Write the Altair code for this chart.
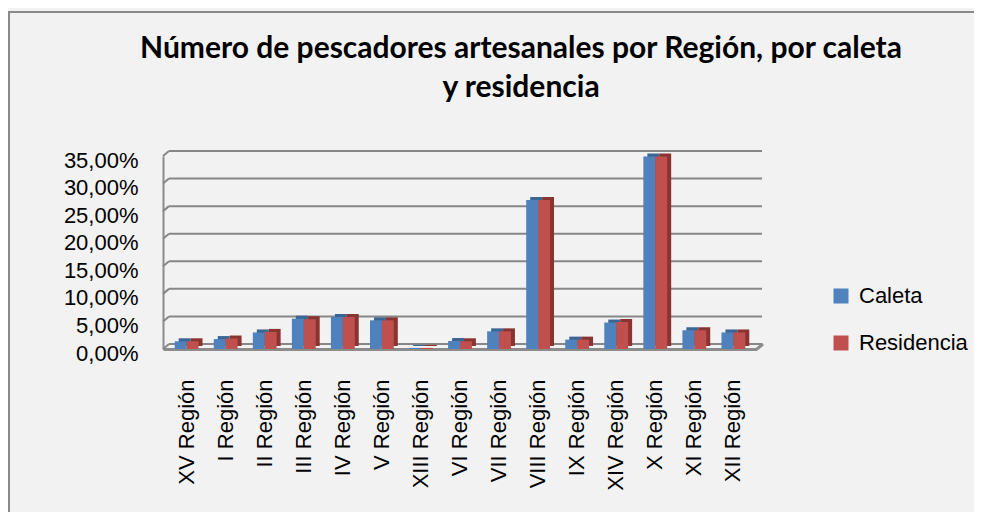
import altair as alt
import pandas as pd

regions = ["XV Región", "I Región", "II Región", "III Región", "IV Región", "V Región",
           "XIII Región", "VI Región", "VII Región", "VIII Región", "IX Región",
           "XIV Región", "X Región", "XI Región", "XII Región"]
caleta = [0.014, 0.018, 0.030, 0.055, 0.058, 0.052, 0.002, 0.0145, 0.032, 0.270,
          0.017, 0.048, 0.349, 0.034, 0.030]
residencia = [0.014, 0.019, 0.031, 0.054, 0.058, 0.052, 0.002, 0.014, 0.032, 0.270,
              0.017, 0.049, 0.349, 0.034, 0.030]
series_names = ["Caleta", "Residencia"]
front_colors = ["#4f81bd", "#c0504d"]
shade_colors = ["#3a6594", "#8a3431"]
y_ticks = [0.0, 0.05, 0.10, 0.15, 0.20, 0.25, 0.30, 0.35]
title_lines = ["Número de pescadores artesanales por Región, por caleta", "y residencia"]

rows = []
for r, c, s in zip(regions, caleta, residencia):
    rows.append({"Region": r, "Serie": "Caleta", "Valor": c})
    rows.append({"Region": r, "Serie": "Residencia", "Valor": s})
df = pd.DataFrame(rows)

W, H = 594, 193
PL, PT = 155, 148
PR, PB = 966 - PL - W, 504 - PT - H

FONT = "Liberation Sans"
FS = 22
x_scale = alt.Scale(domain=regions, paddingInner=0.39, paddingOuter=0.3)
x_scale_shade = alt.Scale(domain=regions, paddingInner=0.39, paddingOuter=0.3, range=[4, W + 4])
xo_scale = alt.Scale(domain=series_names, paddingInner=0, paddingOuter=0)
y_scale = alt.Scale(domain=[0, 0.35], nice=False, zero=True)
label_expr = "replace(format(datum.value, '.2%'), '.', ',')"

x_axis = alt.Axis(title=None, labelAngle=-90, labelFont=FONT, labelFontSize=FS,
                  labelColor="#000000", ticks=False, tickSize=0, labelPadding=30,
                  domainColor="#8c8c8c", domainWidth=3)
y_axis = alt.Axis(title=None, values=y_ticks, labelExpr=label_expr, grid=False,
                  ticks=False, tickSize=0, labelPadding=25, labelFont=FONT,
                  labelFontSize=FS, labelColor="#000000", labelOffset=4,
                  domainColor="#8c8c8c", domainWidth=2)

one = alt.Data(values=[{}])
ticks_df = pd.DataFrame({"t": y_ticks})

border_top = alt.Chart(one).mark_rule(color="#8a8a8a", strokeWidth=2).encode(
    x=alt.value(-PL), x2=alt.value(W + PR), y=alt.value(-PT + 4))
border_left = alt.Chart(one).mark_rule(color="#8a8a8a", strokeWidth=2).encode(
    x=alt.value(-PL + 1), y=alt.value(-PT + 4), y2=alt.value(H + PB))

grid = alt.Chart(ticks_df).mark_rule(
    color="#878787", strokeWidth=2, yOffset=-5).encode(
    y=alt.Y("t:Q", scale=y_scale, axis=y_axis),
    x=alt.value(6), x2=alt.value(W + 5))

stubs = alt.Chart(ticks_df).mark_rule(
    color="#878787", strokeWidth=2, y2Offset=-5).encode(
    y=alt.Y("t:Q", scale=y_scale, axis=y_axis),
    y2=alt.Y2("t:Q"),
    x=alt.value(0), x2=alt.value(6))

floor_end = alt.Chart(pd.DataFrame({"t": [0.0]})).mark_rule(
    color="#8c8c8c", strokeWidth=3, y2Offset=-5).encode(
    y=alt.Y("t:Q", scale=y_scale, axis=y_axis),
    y2=alt.Y2("t:Q"),
    x=alt.value(W), x2=alt.value(W + 6))

shade = alt.Chart(df).mark_bar(yOffset=-3, y2Offset=-3).encode(
    x=alt.X("Region:N", scale=x_scale_shade, sort=regions, axis=None),
    xOffset=alt.XOffset("Serie:N", scale=xo_scale),
    y=alt.Y("Valor:Q", scale=y_scale, axis=y_axis),
    color=alt.Color("Serie:N", scale=alt.Scale(domain=series_names, range=shade_colors), legend=None),
)

front = alt.Chart(df).mark_bar().encode(
    x=alt.X("Region:N", scale=x_scale, sort=regions, axis=x_axis),
    xOffset=alt.XOffset("Serie:N", scale=xo_scale),
    y=alt.Y("Valor:Q", scale=y_scale, axis=y_axis),
    color=alt.Color("Serie:N", scale=alt.Scale(domain=series_names, range=front_colors),
                    legend=alt.Legend(title=None, orient="none", legendX=667, legendY=129,
                                      symbolType="square", symbolSize=225,
                                      symbolStrokeWidth=0, labelFont=FONT, labelFontSize=FS,
                                      labelColor="#000000", labelOffset=7, rowPadding=25)),
)

title = alt.Chart(one).mark_text(
    font="Lato", fontSize=30, fontWeight="bold", align="center", baseline="alphabetic",
    lineHeight=39, color="#000000").encode(
    x=alt.value(358), y=alt.value(-98), text=alt.value(title_lines))

chart = alt.layer(grid, stubs, floor_end, border_top, border_left, shade, front, title).resolve_scale(
    color="independent", x="independent", xOffset="independent"
).properties(
    width=W, height=H,
    autosize=alt.AutoSizeParams(type="none"),
    padding={"left": PL, "top": PT, "right": PR, "bottom": PB},
    background="#f2f2f2",
).configure_view(stroke=None)

chart.save("out.html", embed_options={"renderer": "svg", "actions": False})
